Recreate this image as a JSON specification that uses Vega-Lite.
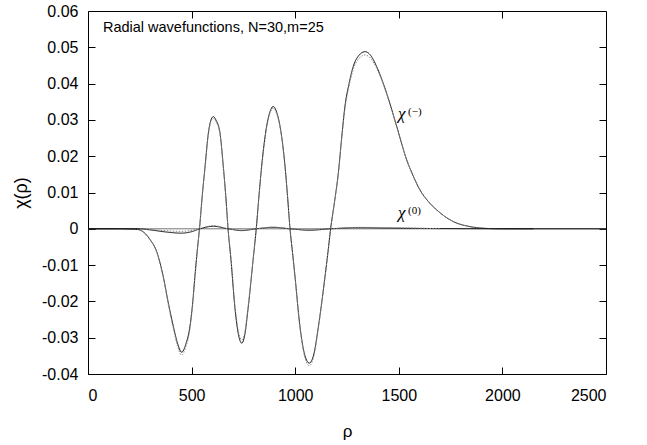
{
  "$schema": "https://vega.github.io/schema/vega-lite/v6.json",
  "width": 518,
  "height": 363,
  "autosize": "none",
  "padding": {"left": 88, "top": 11, "right": 41, "bottom": 71},
  "background": "white",
  "config": {
    "view": {"stroke": "#000", "strokeWidth": 1},
    "font": "Liberation Sans",
    "axis": {"grid": false, "domain": false, "ticks": true, "tickColor": "#000", "tickWidth": 1, "tickSize": -7, "labelColor": "#000", "titleColor": "#000", "labelFont": "Liberation Sans", "titleFont": "Liberation Sans", "labelFontSize": 16, "titleFontSize": 17, "titleFontWeight": "normal"}
  },
  "datasets": {
    "curves": [
      {"s": "chi_minus", "rho": 0, "v": 0}, {"s": "chi_minus", "rho": 150, "v": 0}, {"s": "chi_minus", "rho": 240, "v": -0.0002}, {"s": "chi_minus", "rho": 270, "v": -0.001}, {"s": "chi_minus", "rho": 300, "v": -0.003}, {"s": "chi_minus", "rho": 331, "v": -0.0062}, {"s": "chi_minus", "rho": 363, "v": -0.0131}, {"s": "chi_minus", "rho": 388, "v": -0.0205}, {"s": "chi_minus", "rho": 412, "v": -0.0269}, {"s": "chi_minus", "rho": 432, "v": -0.0315}, {"s": "chi_minus", "rho": 452, "v": -0.034}, {"s": "chi_minus", "rho": 472, "v": -0.0318}, {"s": "chi_minus", "rho": 492, "v": -0.0269}, {"s": "chi_minus", "rho": 505, "v": -0.0205}, {"s": "chi_minus", "rho": 516, "v": -0.0131}, {"s": "chi_minus", "rho": 527, "v": -0.0062}, {"s": "chi_minus", "rho": 538, "v": 0},
      {"s": "chi_minus", "rho": 552, "v": 0.0095}, {"s": "chi_minus", "rho": 565, "v": 0.0172}, {"s": "chi_minus", "rho": 581, "v": 0.0264}, {"s": "chi_minus", "rho": 593, "v": 0.0299}, {"s": "chi_minus", "rho": 605, "v": 0.0309}, {"s": "chi_minus", "rho": 618, "v": 0.0299}, {"s": "chi_minus", "rho": 637, "v": 0.0264}, {"s": "chi_minus", "rho": 653, "v": 0.0172}, {"s": "chi_minus", "rho": 665, "v": 0.009}, {"s": "chi_minus", "rho": 676, "v": 0},
      {"s": "chi_minus", "rho": 690, "v": -0.0085}, {"s": "chi_minus", "rho": 710, "v": -0.0223}, {"s": "chi_minus", "rho": 726, "v": -0.0291}, {"s": "chi_minus", "rho": 742, "v": -0.0315}, {"s": "chi_minus", "rho": 757, "v": -0.0291}, {"s": "chi_minus", "rho": 772, "v": -0.0223}, {"s": "chi_minus", "rho": 797, "v": -0.0085}, {"s": "chi_minus", "rho": 812, "v": 0},
      {"s": "chi_minus", "rho": 825, "v": 0.009}, {"s": "chi_minus", "rho": 838, "v": 0.0172}, {"s": "chi_minus", "rho": 862, "v": 0.0282}, {"s": "chi_minus", "rho": 878, "v": 0.0322}, {"s": "chi_minus", "rho": 894, "v": 0.0337}, {"s": "chi_minus", "rho": 910, "v": 0.0322}, {"s": "chi_minus", "rho": 927, "v": 0.0282}, {"s": "chi_minus", "rho": 951, "v": 0.0172}, {"s": "chi_minus", "rho": 963, "v": 0.009}, {"s": "chi_minus", "rho": 975, "v": 0},
      {"s": "chi_minus", "rho": 987, "v": -0.0065}, {"s": "chi_minus", "rho": 999, "v": -0.0131}, {"s": "chi_minus", "rho": 1023, "v": -0.0269}, {"s": "chi_minus", "rho": 1045, "v": -0.0345}, {"s": "chi_minus", "rho": 1068, "v": -0.037}, {"s": "chi_minus", "rho": 1090, "v": -0.0345}, {"s": "chi_minus", "rho": 1112, "v": -0.0269}, {"s": "chi_minus", "rho": 1144, "v": -0.0131}, {"s": "chi_minus", "rho": 1158, "v": -0.0065}, {"s": "chi_minus", "rho": 1171, "v": 0},
      {"s": "chi_minus", "rho": 1190, "v": 0.0075}, {"s": "chi_minus", "rho": 1208, "v": 0.0153}, {"s": "chi_minus", "rho": 1225, "v": 0.0255}, {"s": "chi_minus", "rho": 1240, "v": 0.0337}, {"s": "chi_minus", "rho": 1260, "v": 0.04}, {"s": "chi_minus", "rho": 1280, "v": 0.0447}, {"s": "chi_minus", "rho": 1308, "v": 0.0478}, {"s": "chi_minus", "rho": 1337, "v": 0.0488}, {"s": "chi_minus", "rho": 1365, "v": 0.0477}, {"s": "chi_minus", "rho": 1393, "v": 0.0447}, {"s": "chi_minus", "rho": 1441, "v": 0.0374}, {"s": "chi_minus", "rho": 1490, "v": 0.0282}, {"s": "chi_minus", "rho": 1538, "v": 0.019}, {"s": "chi_minus", "rho": 1570, "v": 0.0145}, {"s": "chi_minus", "rho": 1602, "v": 0.0107}, {"s": "chi_minus", "rho": 1640, "v": 0.0077}, {"s": "chi_minus", "rho": 1683, "v": 0.0052}, {"s": "chi_minus", "rho": 1763, "v": 0.002}, {"s": "chi_minus", "rho": 1844, "v": 0.0006}, {"s": "chi_minus", "rho": 1924, "v": 0.0001}, {"s": "chi_minus", "rho": 2000, "v": 0}, {"s": "chi_minus", "rho": 2500, "v": 0},

      {"s": "approx", "rho": 150, "v": 0}, {"s": "approx", "rho": 240, "v": -0.0002}, {"s": "approx", "rho": 270, "v": -0.0011}, {"s": "approx", "rho": 300, "v": -0.0031}, {"s": "approx", "rho": 331, "v": -0.0064}, {"s": "approx", "rho": 363, "v": -0.0134}, {"s": "approx", "rho": 388, "v": -0.021}, {"s": "approx", "rho": 412, "v": -0.0275}, {"s": "approx", "rho": 432, "v": -0.0323}, {"s": "approx", "rho": 452, "v": -0.0348}, {"s": "approx", "rho": 472, "v": -0.0326}, {"s": "approx", "rho": 492, "v": -0.0275}, {"s": "approx", "rho": 505, "v": -0.021}, {"s": "approx", "rho": 516, "v": -0.0134}, {"s": "approx", "rho": 527, "v": -0.0064}, {"s": "approx", "rho": 538, "v": 0},
      {"s": "approx", "rho": 552, "v": 0.0093}, {"s": "approx", "rho": 565, "v": 0.0169}, {"s": "approx", "rho": 581, "v": 0.026}, {"s": "approx", "rho": 593, "v": 0.0295}, {"s": "approx", "rho": 605, "v": 0.0304}, {"s": "approx", "rho": 618, "v": 0.0295}, {"s": "approx", "rho": 637, "v": 0.026}, {"s": "approx", "rho": 653, "v": 0.0169}, {"s": "approx", "rho": 665, "v": 0.0088}, {"s": "approx", "rho": 676, "v": 0},
      {"s": "approx", "rho": 690, "v": -0.0082}, {"s": "approx", "rho": 710, "v": -0.0216}, {"s": "approx", "rho": 726, "v": -0.0283}, {"s": "approx", "rho": 742, "v": -0.0306}, {"s": "approx", "rho": 757, "v": -0.0283}, {"s": "approx", "rho": 772, "v": -0.0216}, {"s": "approx", "rho": 797, "v": -0.0082}, {"s": "approx", "rho": 812, "v": 0},
      {"s": "approx", "rho": 825, "v": 0.0088}, {"s": "approx", "rho": 838, "v": 0.0169}, {"s": "approx", "rho": 862, "v": 0.0278}, {"s": "approx", "rho": 878, "v": 0.0318}, {"s": "approx", "rho": 894, "v": 0.0332}, {"s": "approx", "rho": 910, "v": 0.0318}, {"s": "approx", "rho": 927, "v": 0.0278}, {"s": "approx", "rho": 951, "v": 0.0169}, {"s": "approx", "rho": 963, "v": 0.0088}, {"s": "approx", "rho": 975, "v": 0},
      {"s": "approx", "rho": 987, "v": -0.0066}, {"s": "approx", "rho": 999, "v": -0.0133}, {"s": "approx", "rho": 1023, "v": -0.0274}, {"s": "approx", "rho": 1045, "v": -0.0351}, {"s": "approx", "rho": 1068, "v": -0.0377}, {"s": "approx", "rho": 1090, "v": -0.0351}, {"s": "approx", "rho": 1112, "v": -0.0274}, {"s": "approx", "rho": 1144, "v": -0.0133}, {"s": "approx", "rho": 1158, "v": -0.0066}, {"s": "approx", "rho": 1171, "v": 0},
      {"s": "approx", "rho": 1190, "v": 0.0074}, {"s": "approx", "rho": 1208, "v": 0.0151}, {"s": "approx", "rho": 1225, "v": 0.0251}, {"s": "approx", "rho": 1240, "v": 0.0331}, {"s": "approx", "rho": 1260, "v": 0.0393}, {"s": "approx", "rho": 1280, "v": 0.0439}, {"s": "approx", "rho": 1308, "v": 0.0469}, {"s": "approx", "rho": 1337, "v": 0.0479}, {"s": "approx", "rho": 1365, "v": 0.0469}, {"s": "approx", "rho": 1393, "v": 0.0442}, {"s": "approx", "rho": 1441, "v": 0.0372}, {"s": "approx", "rho": 1490, "v": 0.0281}, {"s": "approx", "rho": 1538, "v": 0.019}, {"s": "approx", "rho": 1570, "v": 0.0145}, {"s": "approx", "rho": 1602, "v": 0.0107}, {"s": "approx", "rho": 1640, "v": 0.0077}, {"s": "approx", "rho": 1683, "v": 0.0052}, {"s": "approx", "rho": 1763, "v": 0.002}, {"s": "approx", "rho": 1844, "v": 0.0006}, {"s": "approx", "rho": 1924, "v": 0.0001}, {"s": "approx", "rho": 2000, "v": 0},

      {"s": "chi_zero", "rho": 0, "v": 0}, {"s": "chi_zero", "rho": 250, "v": 0}, {"s": "chi_zero", "rho": 300, "v": -0.0003}, {"s": "chi_zero", "rho": 380, "v": -0.0009}, {"s": "chi_zero", "rho": 450, "v": -0.0012}, {"s": "chi_zero", "rho": 500, "v": -0.0008}, {"s": "chi_zero", "rho": 540, "v": 0}, {"s": "chi_zero", "rho": 605, "v": 0.0007}, {"s": "chi_zero", "rho": 676, "v": 0}, {"s": "chi_zero", "rho": 742, "v": -0.0005}, {"s": "chi_zero", "rho": 812, "v": 0}, {"s": "chi_zero", "rho": 894, "v": 0.0004}, {"s": "chi_zero", "rho": 975, "v": 0}, {"s": "chi_zero", "rho": 1068, "v": -0.0004}, {"s": "chi_zero", "rho": 1171, "v": 0}, {"s": "chi_zero", "rho": 1300, "v": 0.0003}, {"s": "chi_zero", "rho": 1450, "v": 0.0002}, {"s": "chi_zero", "rho": 1600, "v": 0.0001}, {"s": "chi_zero", "rho": 2150, "v": 0},

      {"s": "chi_zero_approx", "rho": 250, "v": 0}, {"s": "chi_zero_approx", "rho": 300, "v": -0.0002}, {"s": "chi_zero_approx", "rho": 450, "v": -0.0007}, {"s": "chi_zero_approx", "rho": 540, "v": 0}, {"s": "chi_zero_approx", "rho": 605, "v": 0.0009}, {"s": "chi_zero_approx", "rho": 676, "v": 0}, {"s": "chi_zero_approx", "rho": 742, "v": -0.0003}, {"s": "chi_zero_approx", "rho": 812, "v": 0}, {"s": "chi_zero_approx", "rho": 894, "v": 0.0005}, {"s": "chi_zero_approx", "rho": 975, "v": 0}, {"s": "chi_zero_approx", "rho": 1068, "v": -0.0002}, {"s": "chi_zero_approx", "rho": 1171, "v": 0}, {"s": "chi_zero_approx", "rho": 1300, "v": 0.0004}, {"s": "chi_zero_approx", "rho": 1500, "v": 0.0003}, {"s": "chi_zero_approx", "rho": 1700, "v": 0}
    ]
  },
  "layer": [
    {
      "data": {"values": [{"v": 0}]},
      "mark": {"type": "rule", "color": "#777", "strokeWidth": 1},
      "encoding": {"y": {"field": "v", "type": "quantitative", "scale": {"domain": [-0.04, 0.06], "nice": false, "zero": false}, "axis": null}}
    },
    {
      "data": {"name": "curves"},
      "mark": {"type": "line", "interpolate": "monotone", "clip": true},
      "encoding": {
        "x": {"field": "rho", "type": "quantitative", "scale": {"domain": [0, 2500], "nice": false, "zero": false},
          "axis": {"orient": "bottom", "values": [0, 500, 1000, 1500, 2000, 2500], "format": "d", "labelPadding": 20, "title": "ρ", "titlePadding": 20}},
        "y": {"field": "v", "type": "quantitative", "scale": {"domain": [-0.04, 0.06], "nice": false, "zero": false},
          "axis": {"orient": "left", "values": [-0.04, -0.03, -0.02, -0.01, 0, 0.01, 0.02, 0.03, 0.04, 0.05, 0.06], "labelExpr": "replace(format(datum.value, '.2~f'), '−', '-')", "labelPadding": 17, "title": "χ(ρ)", "titleFontSize": 18, "titlePadding": 11}},
        "detail": {"field": "s"},
        "color": {"field": "s", "type": "nominal", "scale": {"domain": ["chi_minus", "approx", "chi_zero", "chi_zero_approx"], "range": ["#111111", "#8a8a8a", "#111111", "#8a8a8a"]}, "legend": null},
        "strokeDash": {"field": "s", "type": "nominal", "scale": {"domain": ["chi_minus", "approx", "chi_zero", "chi_zero_approx"], "range": [[1, 0], [1.5, 1.5], [1, 0], [1.5, 1.5]]}, "legend": null},
        "strokeWidth": {"value": 1}
      }
    },
    {
      "data": {"values": [{"rho": 72, "v": 0.0543, "t": "Radial wavefunctions, N=30,m=25"}]},
      "mark": {"type": "text", "align": "left", "baseline": "alphabetic", "font": "Liberation Sans", "fontSize": 14.5, "color": "#000"},
      "encoding": {"x": {"field": "rho", "type": "quantitative", "axis": null}, "y": {"field": "v", "type": "quantitative", "axis": null}, "text": {"field": "t"}}
    },
    {
      "data": {"values": [{"rho": 1496, "v": 0.0303, "t": "χ"}, {"rho": 1496, "v": 0.003, "t": "χ"}]},
      "mark": {"type": "text", "align": "left", "baseline": "alphabetic", "font": "Liberation Serif", "fontStyle": "italic", "fontSize": 17, "color": "#000"},
      "encoding": {"x": {"field": "rho", "type": "quantitative", "axis": null}, "y": {"field": "v", "type": "quantitative", "axis": null}, "text": {"field": "t"}}
    },
    {
      "data": {"values": [{"rho": 1545, "v": 0.0313, "t": "(−)"}, {"rho": 1545, "v": 0.004, "t": "(0)"}]},
      "mark": {"type": "text", "align": "left", "baseline": "alphabetic", "font": "Liberation Serif", "fontSize": 11, "color": "#000"},
      "encoding": {"x": {"field": "rho", "type": "quantitative", "axis": null}, "y": {"field": "v", "type": "quantitative", "axis": null}, "text": {"field": "t"}}
    },
    {
      "data": {"values": [{"rho": 0, "v": 0}]},
      "mark": {"type": "point", "opacity": 0},
      "encoding": {
        "x": {"field": "rho", "type": "quantitative", "axis": {"orient": "top", "values": [500, 1000, 1500, 2000], "labels": false, "title": null}},
        "y": {"field": "v", "type": "quantitative", "axis": {"orient": "right", "values": [-0.03, -0.02, -0.01, 0, 0.01, 0.02, 0.03, 0.04, 0.05], "labels": false, "title": null}}
      }
    }
  ],
  "resolve": {"axis": {"x": "independent", "y": "independent"}}
}
